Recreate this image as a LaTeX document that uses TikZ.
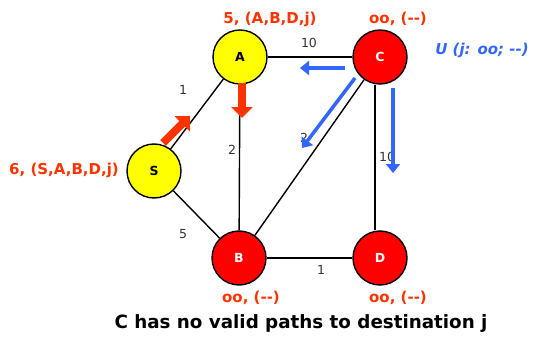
\documentclass[tikz,border=0pt]{standalone}
\usepackage{fontspec}
\setmainfont{DejaVu Sans}
\usetikzlibrary{arrows.meta}
\definecolor{NodeRed}{HTML}{FF0000}
\definecolor{NodeYel}{HTML}{FFFF00}
\definecolor{CostCol}{HTML}{FF3300}
\definecolor{UpdCol}{HTML}{3366FF}

\tikzset{
  router/.style={circle, draw, line width=1.4pt, minimum size=54pt, inner sep=0pt,
    font=\bfseries\fontsize{12.5}{14}\selectfont},
  live/.style={router, fill=NodeYel},
  dead/.style={router, fill=NodeRed, text=white},
  cost/.style={font=\bfseries\fontsize{15}{17}\selectfont, text=CostCol},
  weight/.style={font=\fontsize{12.5}{14}\selectfont, text=black!80},
  link/.style={line width=1.4pt},
  pathmove/.style={CostCol, line width=8pt, -{Triangle[length=11pt,width=21pt]}},
  update/.style={UpdCol, line width=3.5pt, -{Triangle[length=9pt,width=14pt]}}
}

\begin{document}
\begin{tikzpicture}[x=1pt, y=-1pt]
  \useasboundingbox (0,0) rectangle (533,337);
  % routers
  \node[live] (S) at (154,171) {S};
  \node[live] (A) at (240,57) {A};
  \node[dead] (B) at (239,258) {B};
  \node[dead] (C) at (380,57) {C};
  \node[dead] (D) at (380,258) {D};
  % links
  \draw[link] (S) -- (A);
  \draw[link] (S) -- (B);
  \draw[link] (A) -- (B);
  \draw[link] (A) -- (C);
  \draw[link] (C) -- (B);
  \draw[link] ([xshift=-5pt]C.south) -- ([xshift=-5pt]D.north);
  \draw[link] (B) -- (D);
  % link weights
  \node[weight] (wSA) at (183,90) {1};
  \node[weight] (wAB) at (232,150) {2};
  \node[weight] (wAC) at (309,43) {10};
  \node[weight] (wCB) at (304,138) {2};
  \node[weight] (wCD) at (387,157) {10};
  \node[weight] (wSB) at (183,234) {5};
  \node[weight] (wBD) at (321,270) {1};
  % costs and paths
  \node[cost] (lA) at (270,19) {5, (A,B,D,j)};
  \node[cost] (lC) at (398,19) {oo, (-{}-)};
  \node[cost] (lS) at (64,170) {6, (S,A,B,D,j)};
  \node[cost] (lB) at (251,298) {oo, (-{}-)};
  \node[cost] (lD) at (398,298) {oo, (-{}-)};
  \node[font=\bfseries\itshape\fontsize{15}{17}\selectfont, text=UpdCol] (upd) at (482,50)
    {U (j: oo; -{}-)};
  % arrow ends
  \coordinate (sa0) at (163,143); \coordinate (sa1) at (190,116);
  \coordinate (ab0) at (242,83);  \coordinate (ab1) at (242,118);
  \coordinate (ca0) at (345,68);  \coordinate (ca1) at (300,68);
  \coordinate (cb0) at (355,78);  \coordinate (cb1) at (302,148);
  \coordinate (cd0) at (393,88);  \coordinate (cd1) at (393,173);
  \draw[pathmove] (sa0) -- (sa1);
  \draw[pathmove] (ab0) -- (ab1);
  \draw[update] (ca0) -- (ca1);
  \draw[update] (cb0) -- (cb1);
  \draw[update] (cd0) -- (cd1);
  \node[font=\bfseries\fontsize{18.3}{20}\selectfont] (note) at (301,324)
    {C has no valid paths to destination j};
\end{tikzpicture}
\end{document}
